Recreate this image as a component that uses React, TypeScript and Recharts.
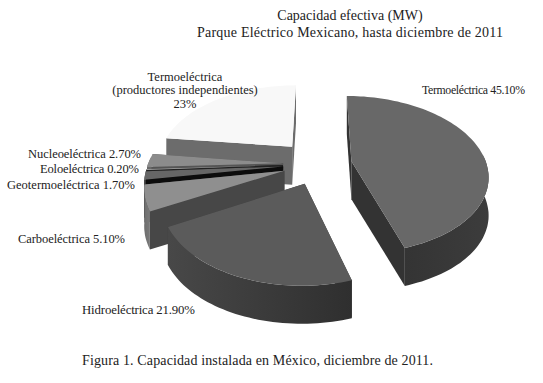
import React from "react"
import { PieChart, Pie } from "recharts"

// drawn back to front, counter-clockwise from 12 o'clock
const names = [
  "Termoeléctrica (productores independientes)",
  "Nucleoeléctrica",
  "Eoloeléctrica",
  "Geotermoeléctrica",
  "Carboeléctrica",
  "Hidroeléctrica",
  "Termoeléctrica",
]
const values = [23, 2.7, 0.2, 1.7, 5.1, 21.9, 45.1]
const valueLabels = ["23%", "2.70%", "0.20%", "1.70%", "5.10%", "21.90%", "45.10%"]

const topColors = ["#f8f8f8", "#8c8c8c", "#a8a8a8", "#666666", "#8f8f8f", "#5b5b5b", "#686868"]
const faceColors = ["#6c6c6c", "#555555", "#222222", "#0c0c0c", "#474747", "#3d3d3d", "#333333"]
const rimColors = ["#cfcfcf", "#6a6a6a", "#444444", "#444444", "#6e6e6e", "#484848", "#343434"]
const rimDarkColors = ["#cfcfcf", "#6a6a6a", "#444444", "#444444", "#7a7a7a", "#2f2f2f", "#3c3c3c"]
const explodes = [42, 36, 36, 36, 36, 36, 33]

const data = names.map((name, i) => ({ name, value: values[i], fill: topColors[i] }))

const FONT = "'Liberation Serif', serif"
const WIDTH = 543
const HEIGHT = 383

// fake 3d camera
const TILT = 0.571
const PERSPECTIVE = 0.169
const DEPTH = 38

function project(cx: number, cy: number, R: number, X: number, Y: number) {
  const s = 1 / (1 + (PERSPECTIVE * Y) / R)
  return { x: cx + X * s, y: cy - Y * TILT * s }
}

function toPath(points: { x: number; y: number }[]) {
  return points.map((p, i) => `${i ? "L" : "M"}${p.x.toFixed(1)} ${p.y.toFixed(1)}`).join(" ") + " Z"
}

function Wedge3D(props: any) {
  const { cx, cy, outerRadius: R, startAngle, endAngle, fill, index } = props
  const a0 = ((90 - startAngle) * Math.PI) / 180
  const a1 = ((90 - endAngle) * Math.PI) / 180
  const mid = (a0 + a1) / 2
  const ox = explodes[index] * Math.sin(mid)
  const oy = explodes[index] * Math.cos(mid)

  const arc: { x: number; y: number }[] = []
  const rim: { x: number; y: number }[] = []
  const steps = Math.max(2, Math.ceil(Math.abs(a1 - a0) / 0.03))
  for (let i = 0; i <= steps; i++) {
    const a = a0 + ((a1 - a0) * i) / steps
    const p = project(cx, cy, R, ox + R * Math.sin(a), oy + R * Math.cos(a))
    arc.push(p)
    // the far side of the rim never shows
    if (Math.cos(a) < 0.1) rim.push(p)
  }
  const apex = project(cx, cy, R, ox, oy)
  const down = (p: { x: number; y: number }) => ({ x: p.x, y: p.y + DEPTH })
  const gradId = `rim-${index}`

  return (
    <g>
      <defs>
        <linearGradient id={gradId} x1="0" x2="1" y1="0" y2="0">
          <stop offset="0" stopColor={rimColors[index]} />
          <stop offset="1" stopColor={rimDarkColors[index]} />
        </linearGradient>
      </defs>
      <path d={toPath([apex, arc[0], down(arc[0]), down(apex)])} fill={faceColors[index]} />
      <path d={toPath([apex, arc[steps], down(arc[steps]), down(apex)])} fill={faceColors[index]} />
      {rim.length > 1 && <path d={toPath([...rim, ...rim.map(down).reverse()])} fill={`url(#${gradId})`} />}
      <path d={toPath([apex, ...arc])} fill={fill} />
    </g>
  )
}

// where the callouts sit, by slice
const labelSpots: Record<string, { x: number; y: number; width: number; size: number }> = {
  Termoeléctrica: { x: 422, y: 94, width: 103, size: 11.8 },
  Hidroeléctrica: { x: 82, y: 314, width: 113, size: 12.8 },
  Carboeléctrica: { x: 18, y: 243, width: 107, size: 12.5 },
  Geotermoeléctrica: { x: 7, y: 189, width: 128, size: 12.5 },
  Eoloeléctrica: { x: 40, y: 173, width: 99, size: 12.5 },
  Nucleoeléctrica: { x: 28, y: 158, width: 113, size: 12.5 },
}

function renderLabel(props: any) {
  const { name, index } = props
  const spot = labelSpots[name]
  if (!spot) {
    return (
      <text fontFamily={FONT} fontSize={12.5} fill="#222" textAnchor="middle">
        <tspan x={185} y={81}>Termoeléctrica</tspan>
        <tspan x={185} y={94}>(productores independientes)</tspan>
        <tspan x={185} y={108}>{valueLabels[index]}</tspan>
      </text>
    )
  }
  return (
    <text
      x={spot.x}
      y={spot.y}
      fontFamily={FONT}
      fontSize={spot.size}
      fill="#222"
      textLength={spot.width}
      lengthAdjust="spacing"
    >
      {`${name} ${valueLabels[index]}`}
    </text>
  )
}

export default function App() {
  return (
    <div style={{ position: "absolute", left: 0, top: 0, width: WIDTH, height: HEIGHT, background: "#fff" }}>
      <PieChart width={WIDTH} height={HEIGHT} margin={{ top: 0, right: 0, bottom: 0, left: 0 }}>
        <Pie
          data={data}
          dataKey="value"
          nameKey="name"
          cx={319}
          cy={164}
          outerRadius={135}
          startAngle={90}
          endAngle={450}
          stroke="none"
          shape={Wedge3D}
          label={renderLabel}
          labelLine={false}
          isAnimationActive={false}
        />
        <text x={350} y={20} textAnchor="middle" fontFamily={FONT} fontSize={14} fill="#222">
          Capacidad efectiva (MW)
        </text>
        <text x={350} y={37} textAnchor="middle" fontFamily={FONT} fontSize={14} fill="#222" textLength={306}>
          Parque Eléctrico Mexicano, hasta diciembre de 2011
        </text>
        <text x={82} y={365} fontFamily={FONT} fontSize={14} fill="#222" textLength={351}>
          Figura 1. Capacidad instalada en México, diciembre de 2011.
        </text>
      </PieChart>
    </div>
  )
}
